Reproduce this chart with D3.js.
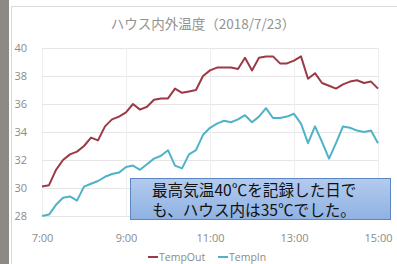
<!DOCTYPE html>
<html>
<head>
<meta charset="utf-8">
<script src="https://cdn.jsdelivr.net/npm/d3@7"></script>
<style>
  body { margin: 0; background: #fff; }
  svg { display: block; }
</style>
</head>
<body>
<div id="chart"></div>
<script>
// hours from 7:00 to 15:00, one reading every 10 minutes
const hours = d3.range(49).map(i => 7 + i / 6);
const tempOut = [30.1, 30.2, 31.3, 32.0, 32.4, 32.6, 33.0, 33.6, 33.4, 34.4, 34.9, 35.1,
  35.4, 36.0, 35.6, 35.8, 36.3, 36.4, 36.4, 37.1, 36.8, 36.9, 37.0, 38.0,
  38.4, 38.6, 38.6, 38.6, 38.5, 39.3, 38.4, 39.3, 39.4, 39.4, 38.9, 38.9,
  39.1, 39.4, 37.8, 38.2, 37.5, 37.3, 37.1, 37.4, 37.6, 37.7, 37.5, 37.6, 37.1];
const tempIn = [28.0, 28.1, 28.8, 29.3, 29.4, 29.1, 30.1, 30.3, 30.5, 30.8, 31.0, 31.1,
  31.5, 31.6, 31.3, 31.7, 32.1, 32.3, 32.7, 31.6, 31.4, 32.4, 32.7, 33.8,
  34.3, 34.6, 34.8, 34.7, 34.9, 35.2, 34.7, 35.1, 35.7, 35.0, 35.0, 35.1,
  35.3, 34.6, 33.2, 34.4, 33.3, 32.1, 33.2, 34.4, 34.3, 34.1, 34.0, 34.1, 33.2];
const yTicks = [28, 30, 32, 34, 36, 38, 40];
const xTicks = [7, 9, 11, 13, 15];
const xTickLabels = ["7:00", "9:00", "11:00", "13:00", "15:00"];
const seriesNames = ["TempOut", "TempIn"];
const title = "ハウス内外温度（2018/7/23）";
const note = ["最高気温40℃を記録した日で", "も、ハウス内は35℃でした。"];

const width = 397, height = 264;
const colors = {TempOut: "#9b3a46", TempIn: "#4fb3c8"};

const svg = d3.select("#chart").append("svg")
  .attr("width", width)
  .attr("height", height);

// gray strip on the left and chart frame
svg.append("rect").attr("x", 0).attr("y", 0).attr("width", 9).attr("height", height).attr("fill", "#8d8a85");
svg.append("rect").attr("x", 11.5).attr("y", 6.5).attr("width", 400).attr("height", 270)
  .attr("fill", "#fff").attr("stroke", "#d9d9d9");

const x = d3.scaleLinear().domain([7, 15]).range([42, 378]);
const y = d3.scaleLinear().domain([28, 40]).range([216, 48]);

// gridlines
svg.append("g").selectAll("line.h")
  .data(yTicks)
  .join("line")
    .attr("x1", x(7)).attr("x2", x(15))
    .attr("y1", d => y(d) + 0.5).attr("y2", d => y(d) + 0.5)
    .attr("stroke", "#e6e6e6");
svg.append("g").selectAll("line.v")
  .data(xTicks)
  .join("line")
    .attr("x1", d => x(d) + 0.5).attr("x2", d => x(d) + 0.5)
    .attr("y1", y(40)).attr("y2", y(28))
    .attr("stroke", "#eeeeee");

// axes (labels only)
const yAxis = svg.append("g")
  .attr("transform", "translate(27,0)")
  .call(d3.axisLeft(y).tickValues(yTicks).tickSize(0).tickPadding(0));
const xAxis = svg.append("g")
  .attr("transform", `translate(0,${y(28) + 14})`)
  .call(d3.axisBottom(x).tickValues(xTicks).tickFormat((d, i) => xTickLabels[i]).tickSize(0).tickPadding(4));
[yAxis, xAxis].forEach(g => {
  g.select(".domain").remove();
  g.selectAll("text")
    .attr("fill", "#8a8a8a")
    .style("font-family", "'Open Sans', sans-serif")
    .style("font-size", "11px");
});

// lines
const line = d3.line().x((d, i) => x(hours[i])).y(d => y(d));
[["TempOut", tempOut], ["TempIn", tempIn]].forEach(([name, vals]) => {
  svg.append("path")
    .datum(vals)
    .attr("fill", "none")
    .attr("stroke", colors[name])
    .attr("stroke-width", 2)
    .attr("stroke-linejoin", "round")
    .attr("d", line);
});

// title
svg.append("text")
  .attr("x", 203).attr("y", 29)
  .attr("text-anchor", "middle")
  .attr("fill", "#939393")
  .style("font-family", "'Noto Sans CJK JP', sans-serif")
  .style("font-size", "13.5px")
  .text(title);

// legend
const legendX = [148, 218];
seriesNames.forEach((name, i) => {
  const g = svg.append("g").attr("transform", `translate(${legendX[i]},257)`);
  g.append("line").attr("x1", 0).attr("x2", 10).attr("stroke", colors[name]).attr("stroke-width", 2);
  g.append("text").attr("x", 11).attr("y", 4)
    .attr("fill", "#8a8a8a")
    .style("font-family", "'Open Sans', sans-serif")
    .style("font-size", "10.5px")
    .text(name);
});

// annotation box
const grad = svg.append("defs").append("linearGradient")
  .attr("id", "boxFill").attr("x1", 0).attr("y1", 0).attr("x2", 0).attr("y2", 1);
grad.append("stop").attr("offset", "0%").attr("stop-color", "#b3cbee");
grad.append("stop").attr("offset", "100%").attr("stop-color", "#8fb2e3");
svg.append("rect")
  .attr("x", 130.5).attr("y", 178.5).attr("width", 260).attr("height", 41)
  .attr("fill", "url(#boxFill)")
  .attr("stroke", "#5b86c2");
svg.append("text")
  .style("font-family", "'Noto Sans CJK JP', sans-serif")
  .style("font-size", "15.6px")
  .attr("fill", "#111")
  .selectAll("tspan")
  .data(note)
  .join("tspan")
    .attr("x", 152)
    .attr("y", (d, i) => 196 + i * 20)
    .text(d => d);
</script>
</body>
</html>
